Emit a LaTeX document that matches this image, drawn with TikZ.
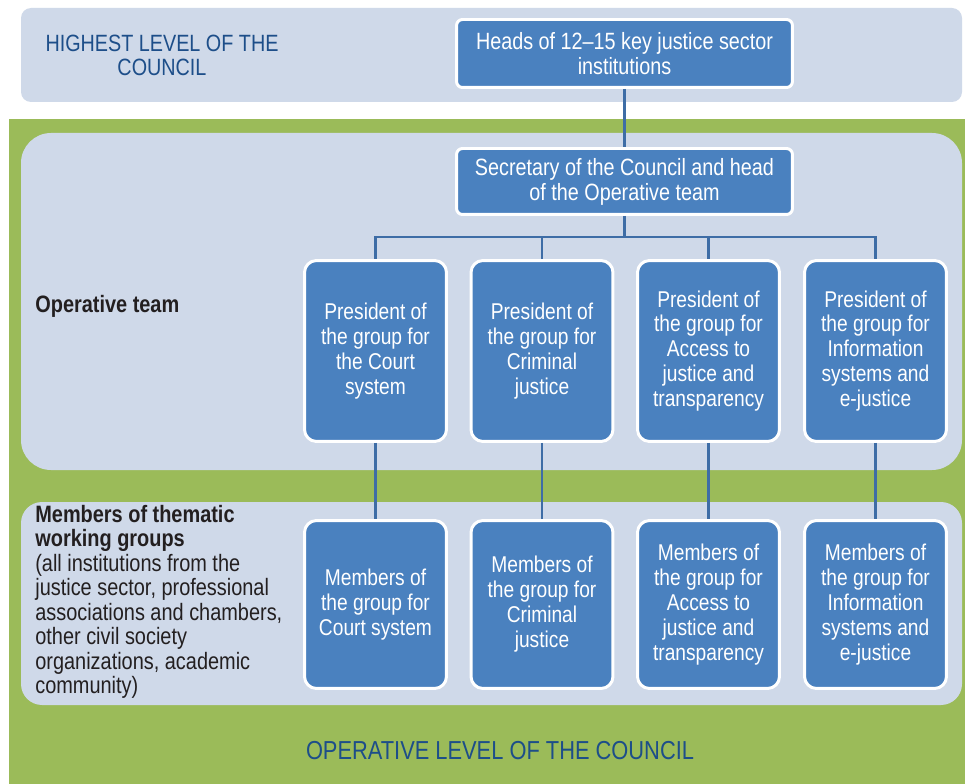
\documentclass[tikz,border=0pt]{standalone}
\usepackage{fontspec}
\setmainfont[FakeStretch=0.84]{Liberation Sans}
\definecolor{panelblue}{HTML}{CFD9E9}
\definecolor{levelgreen}{HTML}{9BBB59}
\definecolor{boxblue}{HTML}{4A81BF}
\definecolor{linkblue}{HTML}{3E6DA6}
\definecolor{headblue}{HTML}{1D4E89}
\definecolor{labelgray}{HTML}{231F20}
\begin{document}
\begin{tikzpicture}[x=0.02cm,y=-0.02cm,
	orgbox/.style={draw=white,line width=1.7pt,fill=boxblue,text=white,align=center,rounded corners=0.24cm,inner sep=0pt,font=\fontsize{13}{14.2}\selectfont},
	topbox/.style={orgbox,minimum width=6.72cm,rounded corners=0.12cm,font=\fontsize{13.4}{14.2}\selectfont},
	presbox/.style={orgbox,minimum width=2.84cm,minimum height=3.62cm},
	membbox/.style={orgbox,minimum width=2.84cm,minimum height=3.36cm},
	link/.style={draw=linkblue,line width=1.7pt},
	levellabel/.style={text=headblue,align=center,font=\fontsize{13.4}{13.6}\selectfont},
	sidelabel/.style={text=labelgray,align=left,inner sep=0pt,font=\fontsize{13.5}{13.9}\selectfont}]
			\useasboundingbox (0,0) rectangle (965,784);
			\fill[white] (0,0) rectangle (965,784);
			\fill[panelblue,rounded corners=0.2cm] (21,8) rectangle (962,102);
			\fill[levelgreen] (9,119) rectangle (965,784);
			\fill[panelblue,rounded corners=0.6cm] (21,133) rectangle (962,470);
			\fill[panelblue,rounded corners=0.42cm] (21,502) rectangle (962,705);
			\node[levellabel] (highest) at (162,55) {HIGHEST LEVEL OF THE\\COUNCIL};
			\node[levellabel,anchor=base,font=\fontsize{14.8}{15}\selectfont] (operative) at (500,759) {OPERATIVE LEVEL OF THE COUNCIL};
			\node[sidelabel,anchor=base west] (team) at (35,313) {\textbf{Operative team}};
			\node[sidelabel,anchor=north west] (members) at (35,505) {\textbf{Members of thematic}\\\textbf{working groups}\\(all institutions from the\\justice sector, professional\\associations and chambers,\\other civil society\\organizations, academic\\community)};
			\node[topbox,minimum height=1.36cm] (heads) at (624.5,53.5) {Heads of 12--15 key justice sector\\institutions};
			\node[topbox,minimum height=1.32cm] (secr) at (624.5,181.5) {Secretary of the Council and head\\of the Operative team};
			\node[presbox] (pres1) at (375.5,351) {President of\\the group for\\the Court\\system};
			\node[presbox] (pres2) at (542,351) {President of\\the group for\\Criminal\\justice};
			\node[presbox] (pres3) at (708.5,351) {President of\\the group for\\Access to\\justice and\\transparency};
			\node[presbox] (pres4) at (875.5,351) {President of\\the group for\\Information\\systems and\\e-justice};
			\node[membbox] (memb1) at (375.5,604.5) {Members of\\the group for\\Court system};
			\node[membbox] (memb2) at (542,604.5) {Members of\\the group for\\Criminal\\justice};
			\node[membbox] (memb3) at (708.5,604.5) {Members of\\the group for\\Access to\\justice and\\transparency};
			\node[membbox] (memb4) at (875.5,604.5) {Members of\\the group for\\Information\\systems and\\e-justice};
			\coordinate (bus) at (624.5,237);
			\draw[link] (heads.south) -- (secr.north);
			\draw[link] (secr.south) -- (bus);
			\foreach \i in {1,...,4}
			{
				\draw[link] (bus) -| (pres\i.north);
				\draw[link] (pres\i.south) -- (memb\i.north);
			}
\end{tikzpicture}
\end{document}
